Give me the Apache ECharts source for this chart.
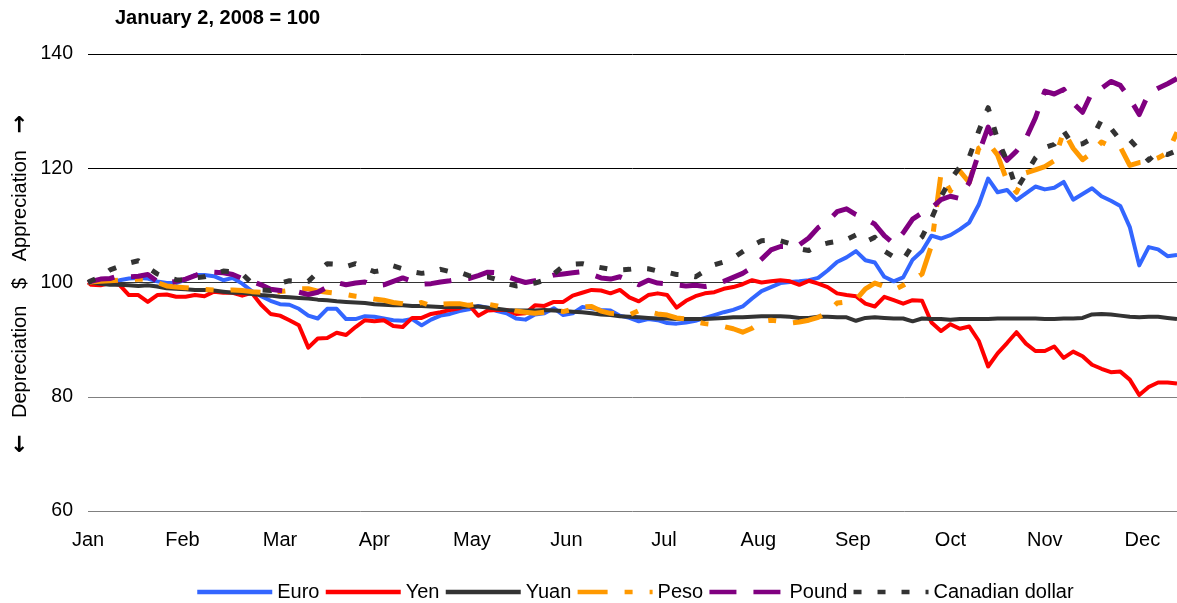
<!DOCTYPE html>
<html><head><meta charset="utf-8">
<script src="https://cdn.jsdelivr.net/npm/echarts@6/dist/echarts.min.js"></script>
<style>html,body{margin:0;padding:0;background:#fff}#c{width:1177px;height:603px}</style>
</head><body><div id="c"></div>
<script>
// ---- Data ----
const monthLabels = ['Jan','Feb','Mar','Apr','May','Jun','Jul','Aug','Sep','Oct','Nov','Dec'];
const firstDay = '2008-01-02';
const lastDay = '2008-12-13';
const labelStepDays = 365 / 12;   // month labels are evenly spaced along the axis
const yTicks = [60, 80, 100, 120, 140];
const seriesNames = ['Euro','Yen','Yuan','Peso','Pound','Canadian dollar'];

// sampled day offsets from Jan 2 (every 3 days)
const sampleOffsets = [0,1,4,7,10,13,16,19,22,25,28,31,34,37,40,43,46,49,52,55,58,61,64,67,70,73,76,79,82,85,88,91,94,97,100,103,106,109,112,115,118,121,124,127,130,133,136,139,142,145,148,151,154,157,160,163,166,169,172,175,178,181,184,187,190,193,196,199,202,205,208,211,214,217,220,223,226,229,232,235,238,241,244,247,250,253,256,259,262,265,268,271,274,277,280,283,286,289,292,295,298,301,304,307,310,313,316,319,322,325,328,331,334,337,340,343,346,347];

const euro = [100,
 100.1,100.2,100.3,100.4,100.7,100.8,100.7,100.2,99.9,99.9,
 100.5,101.3,101.3,101.1,100.4,100.8,99.8,98.5,97.6,96.8,
 96.2,96.1,95.4,94.2,93.7,95.4,95.4,93.6,93.6,94.1,
 94,93.7,93.4,93.3,93.6,92.5,93.5,94.2,94.5,95,
 95.3,95.9,95.6,95,94.6,93.7,93.5,94.4,94.6,95.5,
 94.3,94.6,95.7,95.5,95.2,95.1,94.2,93.8,93.2,93.6,
 93.4,92.9,92.8,93,93.3,93.8,94.3,94.8,95.2,95.8,
 97.2,98.5,99.2,99.9,100.1,100.2,100.4,100.8,102.1,103.6,
 104.4,105.5,103.9,103.5,101,100.2,100.9,104,105.5,108.2,
 107.7,108.3,109.3,110.5,113.6,118.2,115.8,116.2,114.4,115.6,
 116.8,116.3,116.6,117.6,114.5,115.5,116.5,115.1,114.3,113.4,
 109.7,103.0,106.2,105.8,104.6,104.8,
 106.3];

const yen = [100,
 99.6,99.5,99.9,99.6,97.8,97.8,96.6,97.8,97.9,97.5,
 97.5,97.8,97.6,98.4,98.2,98.2,97.7,98.2,96.1,94.5,
 94.2,93.4,92.5,88.6,90.2,90.3,91.2,90.8,92.2,93.4,
 93.2,93.4,92.4,92.2,93.8,93.8,94.5,94.8,95.2,95.5,
 96.1,94.2,95.1,95.2,95.2,94.5,94.6,96,95.9,96.6,
 96.6,97.7,98.2,98.7,98.6,98.1,98.7,97.4,96.7,97.8,
 98.1,97.8,95.6,96.8,97.6,98.1,98.3,98.9,99.2,99.7,
 100.4,100,100.2,100.4,100.2,99.6,100.3,99.8,99.2,98.1,
 97.8,97.6,96.3,95.8,97.5,96.9,96.3,96.9,96.8,93,
 91.5,92.7,91.9,92.3,89.8,85.3,87.6,89.4,91.3,89.3,
 88,88,88.8,86.8,87.9,87.1,85.6,84.9,84.3,84.4,
 83,80.3,81.7,82.5,82.5,82.3,
 82.9];

const yuan = [100,
 100,99.8,99.6,99.6,99.5,99.4,99.5,99.3,99,98.9,
 98.8,98.7,98.7,98.6,98.4,98.2,98.2,98,97.8,97.7,
 97.5,97.4,97.3,97.2,97,96.9,96.7,96.6,96.5,96.4,
 96.2,96.1,96,96,95.9,95.9,95.8,95.7,95.7,95.7,
 95.8,95.8,95.6,95.4,95.2,95.1,95.1,95.1,95.2,95.1,
 95,94.9,94.8,94.6,94.4,94.3,94.1,94,93.9,93.8,
 93.7,93.7,93.6,93.6,93.6,93.6,93.7,93.8,93.9,93.9,
 94,94.1,94.1,94.1,94,93.8,93.8,94,94,93.9,
 93.9,93.3,93.8,93.9,93.8,93.7,93.7,93.2,93.7,93.6,
 93.6,93.5,93.6,93.6,93.6,93.6,93.7,93.7,93.7,93.7,
 93.7,93.6,93.6,93.7,93.7,93.8,94.4,94.5,94.4,94.2,
 94,93.9,94,94,93.8,93.6,
 93.5];

const peso = [100,
 100.1,100.2,100.3,100.4,100.4,100.6,100.5,100.0,99.4,99.2,
 99.1,98.9,98.8,98.7,98.6,98.7,98.6,98.4,98.3,98.2,
 98.4,98.6,98.9,98.9,98.5,98.3,98.1,97.9,97.6,97.4,
 97.1,96.9,96.5,96.3,96.0,96.5,95.9,96.2,96.3,96.3,
 96.0,96.3,96.2,95.9,95.4,95.0,94.8,94.6,94.8,95.1,
 94.9,95.3,95.7,95.8,95.0,94.6,94.5,94.3,95.1,94.9,
 94.5,94.3,93.8,93.6,93.1,92.8,92.6,92.3,91.9,91.3,
 92.0,93.2,93.4,93.2,92.9,93.1,93.4,93.9,94.8,96.4,
 96.6,97.0,98.9,99.9,99.3,98.7,99.5,100.4,101.5,106.5,
 119.0,116.0,119.5,117.5,123.5,124.5,122.3,117.8,115.8,119.2,
 119.7,120.3,121.3,126.5,123.5,121.5,122.7,124.6,123.8,123.7,
 120.5,121,121.2,121.8,122.7,126.3,
 127.2];

const pound = [100,
 100.2,100.6,100.7,101.2,101.0,101.1,101.4,100.2,99.9,100.2,
 100.6,101.2,102.0,101.8,101.7,101.4,100.7,100.2,99.6,98.8,
 98.6,98.4,98.3,97.9,98.3,99.2,100.0,99.6,99.9,100.1,
 99.4,99.6,100.2,100.8,100.2,99.7,99.8,100.1,100.3,100.6,
 100.7,101.2,101.8,101.7,101.1,100.5,100.0,100.3,100.8,101.3,
 101.5,101.7,101.9,101.4,100.8,100.6,101.0,100.3,99.6,100.4,
 99.9,99.8,99.6,99.4,99.5,99.3,99.6,100.2,100.9,101.6,
 102.6,104.1,105.7,106.3,106.3,106.6,107.8,109.6,110.7,112.4,
 112.9,111.9,111.2,110.2,108.2,106.8,108.7,111.1,112.2,113.0,
 114.5,115.1,114.7,117.5,122.6,127.2,123.8,121.4,123.0,125.2,
 128.8,133.5,133.0,133.8,131.4,129.8,133.3,134.0,135.2,134.5,
 132.2,129.4,133.1,134.0,134.8,135.7,
 136.0];

const cad = [100,
 100.3,101.0,102.2,102.8,103.4,103.8,102.6,101.5,100.9,100.5,
 100.4,100.8,101.0,101.5,102.0,101.9,101.5,99.9,98.7,98.6,
 99.9,100.3,100.2,100.2,101.8,103.3,103.2,102.8,103.3,102.5,
 101.9,102.2,102.9,102.4,101.9,101.6,101.8,102.3,101.9,101.8,
 101.2,101.0,101.0,100.5,99.8,99.4,99.6,99.9,100.4,101.5,
 102.9,103.2,103.3,102.9,102.6,102.3,102.2,102.3,102.5,102.4,
 102.0,101.8,101.4,101.3,101.0,102.0,103.1,103.6,104.3,105.4,
 106.5,107.3,107.4,107.3,106.8,105.9,105.6,106.5,106.9,107.2,
 107.5,108.3,107.1,107.9,105.5,104.5,104.0,106.5,108.0,111.2,
 115.0,118.0,120.2,122.0,126.5,130.6,125.0,121.3,116.3,119.0,
 121.8,123.6,124.2,126.5,124.0,124.3,125.2,128.5,127.0,124.9,
 125.0,123.2,121.4,122.9,122.4,123.1,
 123.4];

// ---- Build categories (calendar days) ----
function fmt(d){return d.toISOString().slice(0,10);}
const categories = [];
{
  const d = new Date(firstDay + 'T00:00:00Z');
  const end = new Date(lastDay + 'T00:00:00Z');
  while (d <= end) { categories.push(fmt(d)); d.setUTCDate(d.getUTCDate() + 1); }
}
const pairs = vals => vals.map((v, i) => [categories[sampleOffsets[i]], v]);
const isMonthLabel = idx => idx === Math.round(Math.round(idx / labelStepDays) * labelStepDays);

const FONT = '"Liberation Sans", Arial, sans-serif';
const styles = [
  {color:'#3366FF', width:4, type:'solid'},
  {color:'#FF0000', width:4, type:'solid'},
  {color:'#333333', width:4, type:'solid'},
  {color:'#FF9900', width:5, type:[30,17,8,17]},
  {color:'#800080', width:5, type:[27,17]},
  {color:'#333333', width:5, type:[8,16]}
];
const allVals = [euro, yen, yuan, peso, pound, cad];

const chart = echarts.init(document.getElementById('c'), null, {renderer:'canvas'});
chart.setOption({
  animation: false,
  backgroundColor: '#fff',
  textStyle: {fontFamily: FONT},
  grid: {left: 88, right: 0, top: 54, bottom: 92, containLabel: false},
  graphic: [
    {type:'text', left: 115, top: 8, style:{text:'January 2, 2008 = 100', font:'bold 20px ' + FONT, fill:'#000'}},
    {type:'text', x: 20, y: 284, rotation: Math.PI/2,
     style:{text:'{a|\u2190}   Depreciation   $   Appreciation   {a|\u2192}', font:'20px ' + FONT, fill:'#000', align:'center', verticalAlign:'middle',
       rich:{a:{fontSize: 22, fontWeight:'bold', fontFamily:'"DejaVu Sans", sans-serif', fill:'#000'}}}}
  ],
  legend: {
    left: 195, top: 582, padding: 0, itemWidth: 75, itemHeight: 14, itemGap: 4,
    itemStyle: {opacity: 0},
    lineStyle: {width: 4.5},
    textStyle: {fontSize: 20, color:'#000', fontFamily: FONT},
    data: seriesNames
  },
  xAxis: {
    type: 'category', data: categories, boundaryGap: false,
    axisLine: {show:false}, axisTick: {show:false}, splitLine:{show:false},
    axisLabel: {
      fontSize: 20, color:'#000', margin: 19, fontFamily: FONT,
      interval: (idx) => isMonthLabel(idx),
      formatter: (val, idx) => monthLabels[Math.round(idx / labelStepDays)]
    }
  },
  yAxis: {
    type: 'value', min: yTicks[0], max: yTicks[yTicks.length-1], interval: 20,
    axisLine:{show:false}, axisTick:{show:false},
    axisLabel: {fontSize: 19.5, color:'#000', margin: 15, fontFamily: FONT},
    splitLine: {lineStyle: {color: ['#808080','#808080','#333333','#000000','#000000'], width: 1}}
  },
  series: seriesNames.map((name, i) => ({
    name, type:'line', symbol:'none', smooth:false,
    data: pairs(allVals[i]),
    lineStyle: {color: styles[i].color, width: styles[i].width, type: styles[i].type, cap:'butt', join:'round'},
    itemStyle: {color: styles[i].color}
  }))
});
</script>
</body></html>
